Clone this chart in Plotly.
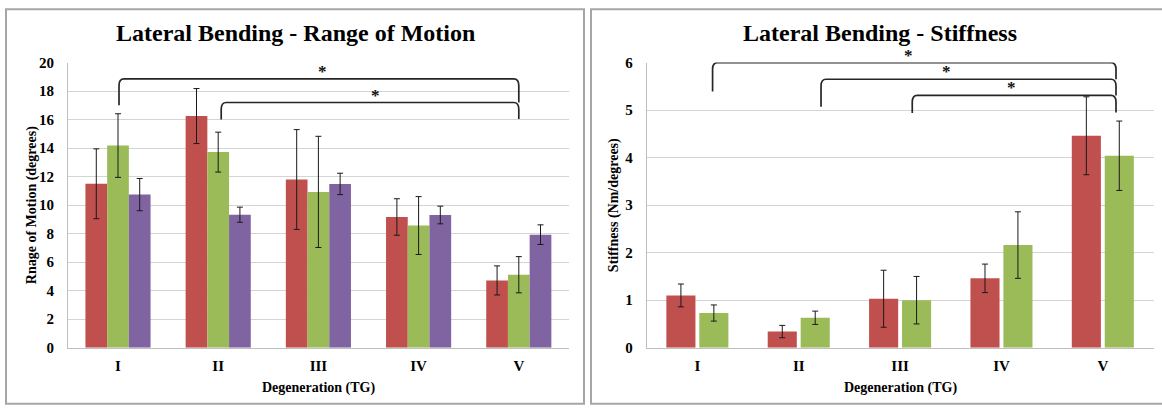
import plotly.graph_objects as go

W, H = 1162, 413
FONT = "Liberation Serif"

GRADES = ["I", "II", "III", "IV", "V"]
GRADE_POS = [0, 1, 2, 3, 4]

# Lateral bending range of motion (degrees): mean and SD per degeneration grade
ROM_RED = [11.5, 16.25, 11.8, 9.17, 4.72]
ROM_RED_SD = [2.45, 1.93, 3.5, 1.28, 1.02]
ROM_GREEN = [14.18, 13.72, 10.93, 8.57, 5.12]
ROM_GREEN_SD = [2.23, 1.4, 3.9, 2.03, 1.27]
ROM_PURPLE = [10.74, 9.33, 11.49, 9.31, 7.93]
ROM_PURPLE_SD = [1.13, 0.53, 0.75, 0.62, 0.69]

# Lateral bending stiffness (Nm/degrees): mean and SD per degeneration grade
STIFF_RED = [1.10, 0.34, 1.03, 1.46, 4.46]
STIFF_RED_SD = [0.24, 0.13, 0.60, 0.30, 0.82]
STIFF_GREEN = [0.73, 0.63, 1.00, 2.16, 4.04]
STIFF_GREEN_SD = [0.17, 0.14, 0.50, 0.70, 0.73]

# Significance brackets: (start grade pos, end grade pos, bracket height,
# left leg bottom, right leg bottom, star position)
ROM_BRACKETS = [
    (0.01, 4.0, 18.86, 17.0, 17.2, 2.04),
    (1.03, 4.0, 17.2, 16.0, 16.05, 2.57),
]
STIFF_BRACKETS = [
    (0.15, 4.13, 6.0, 5.39, 5.65, 2.08),
    (1.22, 4.13, 5.65, 5.07, 5.31, 2.46),
    (2.12, 4.13, 5.31, 4.94, 4.95, 3.10),
]

RED, GREEN, PURPLE = "#C0504D", "#9BBB59", "#8064A2"

# Plot-area geometry (pixels from the top-left of the page)
LEFT_PX = (67.9, 568.9)
RIGHT_PX = (646.7, 1153.5)
TOP_PX, BOT_PX = 56.8, 353.4
YDOM = [1 - BOT_PX / H, 1 - TOP_PX / H]


def dom(px):
    return [px[0] / W, px[1] / W]


fig = go.Figure()


def add_bar(values, sd, color, xaxis, yaxis):
    fig.add_trace(go.Bar(
        x=GRADE_POS, y=values,
        marker=dict(color=color, line=dict(width=0)),
        error_y=dict(type="data", array=sd, color="#1a1a1a", thickness=1, width=3),
        xaxis=xaxis, yaxis=yaxis, showlegend=False,
    ))


add_bar(ROM_RED, ROM_RED_SD, RED, "x", "y")
add_bar(ROM_GREEN, ROM_GREEN_SD, GREEN, "x", "y")
add_bar(ROM_PURPLE, ROM_PURPLE_SD, PURPLE, "x", "y")
add_bar(STIFF_RED, STIFF_RED_SD, RED, "x2", "y2")
add_bar(STIFF_GREEN, STIFF_GREEN_SD, GREEN, "x2", "y2")

tickfont = dict(family=FONT, size=15, color="#000000")
grid = "#D4D4D4"
axline = "#BFBFBF"

common_x = dict(
    tickmode="array", tickvals=GRADE_POS, ticktext=["<b>%s</b>" % g for g in GRADES],
    range=[-0.5, 4.5], showgrid=False, zeroline=False, showline=True,
    linecolor=axline, linewidth=1, tickfont=tickfont, ticks="",
    ticklabelstandoff=4, fixedrange=True,
)
fig.update_layout(
    xaxis=dict(domain=dom(LEFT_PX), anchor="y", **common_x),
    xaxis2=dict(domain=dom(RIGHT_PX), anchor="y2", **common_x),
    yaxis=dict(domain=YDOM, anchor="x", range=[0, 20],
               tickvals=list(range(0, 21, 2)),
               ticktext=["<b>%d</b>" % v for v in range(0, 21, 2)],
               showgrid=True, gridcolor=grid, gridwidth=1, zeroline=False,
               showline=True, linecolor=axline, linewidth=1, tickfont=tickfont,
               ticklabelstandoff=10, fixedrange=True),
    yaxis2=dict(domain=YDOM, anchor="x2", range=[0, 6],
                tickvals=list(range(0, 7)),
                ticktext=["<b>%d</b>" % v for v in range(0, 7)],
                showgrid=True, gridcolor=grid, gridwidth=1, zeroline=False,
                showline=True, linecolor=axline, linewidth=1, tickfont=tickfont,
                ticklabelstandoff=10, fixedrange=True),
    barmode="group",
    bargap=0.35,
    width=W, height=H,
    margin=dict(l=0, r=0, t=0, b=0),
    paper_bgcolor="white", plot_bgcolor="white",
    showlegend=False,
)

# Stiffness panel has two bars per grade with wider gaps
fig.update_traces(selector=dict(xaxis="x2"), width=0.287)

shapes = []
annotations = []


def bracket_paths(brackets, xref, yref, px_range, yspan):
    px_per_x = (px_range[1] - px_range[0]) / 5.0
    px_per_y = (BOT_PX - TOP_PX) / yspan
    rx = 5.0 / px_per_x
    ry = 7.0 / px_per_y
    for x0, x1, yh, yl, yr, xs in brackets:
        path = (f"M {x0},{yl} L {x0},{yh - ry} Q {x0},{yh} {x0 + rx},{yh} "
                f"L {x1 - rx},{yh} Q {x1},{yh} {x1},{yh - ry} L {x1},{yr}")
        shapes.append(dict(type="path", path=path, xref=xref, yref=yref,
                           line=dict(color="#262626", width=1.7), layer="above"))
        annotations.append(dict(x=xs, y=yh, xref=xref, yref=yref, text="<b>*</b>",
                                showarrow=False, yanchor="bottom", yshift=-4,
                                font=dict(family=FONT, size=17, color="#111111")))


bracket_paths(ROM_BRACKETS, "x", "y", LEFT_PX, 20.0)
bracket_paths(STIFF_BRACKETS, "x2", "y2", RIGHT_PX, 6.0)

# Panel frames
frame = dict(type="rect", xref="paper", yref="paper",
             line=dict(color="#A6A6A6", width=2), fillcolor="rgba(0,0,0,0)", layer="below")
shapes.append(dict(frame, x0=6 / W, x1=584 / W, y0=1 - 411.8 / H, y1=1 - 1.2 / H))
shapes.append(dict(frame, x0=591 / W, x1=1175 / W, y0=1 - 411.8 / H, y1=1 - 1.2 / H))


def text(x_px, y_px, s, size, angle=0):
    annotations.append(dict(x=x_px / W, y=1 - y_px / H, xref="paper", yref="paper",
                            text="<b>%s</b>" % s, showarrow=False, textangle=angle,
                            xanchor="center", yanchor="middle",
                            font=dict(family=FONT, size=size, color="#000000")))


text(295, 25.6, "Lateral Bending - Range of Motion", 24)
text(880, 25.6, "Lateral Bending - Stiffness", 24)
text((LEFT_PX[0] + LEFT_PX[1]) / 2, 395, "Degeneration (TG)", 14)
text((RIGHT_PX[0] + RIGHT_PX[1]) / 2, 395, "Degeneration (TG)", 14)
text(32, (TOP_PX + BOT_PX) / 2, "Rnage of Motion (degrees)", 14, -90)
text(614, (TOP_PX + BOT_PX) / 2, "Stiffness (Nm/degrees)", 14, -90)

fig.update_layout(shapes=shapes, annotations=annotations)
fig.write_html("out.html")
